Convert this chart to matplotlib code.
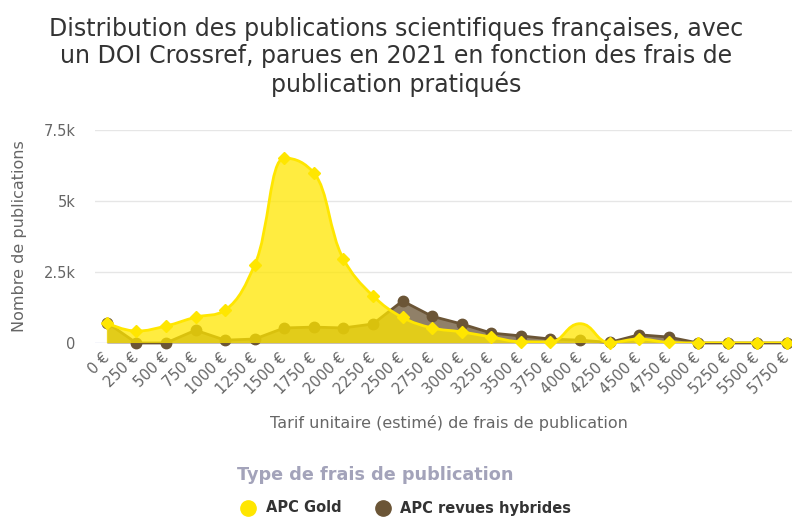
import numpy as np
import matplotlib.pyplot as plt
from matplotlib.path import Path
from matplotlib.patches import PathPatch
from matplotlib.lines import Line2D

# data
categories = ["0 €", "250 €", "500 €", "750 €", "1000 €", "1250 €", "1500 €", "1750 €",
              "2000 €", "2250 €", "2500 €", "2750 €", "3000 €", "3250 €", "3500 €", "3750 €",
              "4000 €", "4250 €", "4500 €", "4750 €", "5000 €", "5250 €", "5500 €", "5750 €"]
gold = [700, 420, 600, 910, 1160, 2750, 6510, 5990, 2960, 1660, 900, 530,
        390, 210, 45, 40, 680, 15, 140, 20, 5, 5, 5, 5]
hybrid = [720, 0, 0, 450, 100, 140, 530, 560, 530, 670, 1480, 940,
          670, 350, 250, 140, 100, 20, 290, 210, 0, 0, 0, 0]
y_ticks = [0, 2500, 5000, 7500]
y_ticklabels = ["0", "2.5k", "5k", "7.5k"]

GOLD = "#FFE600"
BROWN = "#6B5536"
GREY = "#666666"


def hc_spline(px, py, smoothing=1.5, max_arm=0.5):
    """Highcharts-like spline, computed in pixel space, arms kept inside each step."""
    n = len(px)
    denom = smoothing + 1
    step = px[1] - px[0]
    left = [(px[i], py[i]) for i in range(n)]
    right = [(px[i], py[i]) for i in range(n)]
    for i in range(1, n - 1):
        x, y = px[i], py[i]
        lx, ly = px[i - 1], py[i - 1]
        nx, ny = px[i + 1], py[i + 1]
        lcx, lcy = (smoothing * x + lx) / denom, (smoothing * y + ly) / denom
        rcx, rcy = (smoothing * x + nx) / denom, (smoothing * y + ny) / denom
        dl = np.hypot(lcx - x, lcy - y)
        dr = np.hypot(rcx - x, rcy - y)
        la = np.arctan2(lcy - y, lcx - x)
        ra = np.arctan2(rcy - y, rcx - x)
        ja = np.pi / 2 + (la + ra) / 2
        if abs(la - ja) > np.pi / 2:
            ja -= np.pi
        lcx, lcy = x + np.cos(ja) * dl, y + np.sin(ja) * dl
        rcx, rcy = x + np.cos(np.pi + ja) * dr, y + np.sin(np.pi + ja) * dr
        # no false extremes
        if rcy > y and rcy > ny:
            rcy = max(y, ny); lcy = 2 * y - rcy
        elif rcy < y and rcy < ny:
            rcy = min(y, ny); lcy = 2 * y - rcy
        if lcy > ly and lcy > y:
            lcy = max(ly, y); rcy = 2 * y - lcy
        elif lcy < ly and lcy < y:
            lcy = min(ly, y); rcy = 2 * y - lcy
        # shorten arms that would reach past half a step
        for cx, cy, side in [(lcx, lcy, "l"), (rcx, rcy, "r")]:
            ax_ = abs(cx - x)
            k = min(1.0, max_arm * step / ax_) if ax_ > 0 else 1.0
            pt = (x + (cx - x) * k, y + (cy - y) * k)
            if side == "l":
                left[i] = pt
            else:
                right[i] = pt
    verts = [(px[0], py[0])]
    codes = [Path.MOVETO]
    for i in range(1, n):
        verts += [right[i - 1], left[i], (px[i], py[i])]
        codes += [Path.CURVE4] * 3
    return verts, codes


fig = plt.figure(figsize=(7.92, 5.2), dpi=100)
ax = fig.add_axes([95 / 792, 1 - 343 / 520, 697 / 792, 213 / 520])
x = np.arange(len(categories))
ax.set_xlim(-0.4, len(categories) - 0.83)
ax.set_ylim(0, 7500)

# hybrid: straight area
ax.fill_between(x, hybrid, 0, color=BROWN, alpha=0.75, lw=0, zorder=2)
ax.plot(x, hybrid, color=BROWN, lw=2, marker="o", ms=7.5, zorder=3, clip_on=False)

# gold: spline area, built in display space then mapped back to data
pts = ax.transData.transform(np.column_stack([x, gold]))
verts, codes = hc_spline(pts[:, 0], pts[:, 1])
verts = ax.transData.inverted().transform(np.array(verts))
curve = Path(verts, codes)
area = Path(np.vstack([verts, [[x[-1], 0], [x[0], 0], verts[0]]]),
            codes + [Path.LINETO, Path.LINETO, Path.CLOSEPOLY])
ax.add_patch(PathPatch(area, facecolor=GOLD, alpha=0.75, lw=0, zorder=4))
ax.add_patch(PathPatch(curve, facecolor="none", edgecolor=GOLD, lw=2, zorder=5))
shown = [i for i in range(len(gold)) if categories[i] != "4000 €"]  # no marker at the 4000 € peak
ax.plot(x, gold, ls="none", marker="D", ms=6.5, color=GOLD, markevery=shown,
        zorder=6, clip_on=False)

# axes styling
for s in ax.spines.values():
    s.set_visible(False)
ax.axhline(0, color="#ccd6eb", lw=1, zorder=1)
for t in y_ticks[1:]:
    ax.axhline(t, color="#e6e6e6", lw=1, zorder=0)
ax.set_yticks(y_ticks)
ax.set_yticklabels(y_ticklabels, fontsize=10.5, color=GREY)
ax.set_xticks(x)
ax.set_xticklabels(categories, rotation=45, ha="right", va="center",
                   rotation_mode="anchor", fontsize=10.5, color=GREY)
ax.tick_params(axis="both", length=0)
ax.tick_params(axis="y", pad=14)
ax.tick_params(axis="x", pad=9)
ax.set_ylabel("Nombre de publications", fontsize=11.5, color=GREY, labelpad=12)

fig.text(449 / 792, 1 - 423 / 520, "Tarif unitaire (estimé) de frais de publication",
         ha="center", va="center", fontsize=11.5, color=GREY)

fig.text(0.5, 1 - 57 / 520,
         "Distribution des publications scientifiques françaises, avec\n"
         "un DOI Crossref, parues en 2021 en fonction des frais de\n"
         "publication pratiqués",
         ha="center", va="center", fontsize=17, color="#333333", linespacing=1.17)

# legend
fig.text(375 / 792, 1 - 475 / 520, "Type de frais de publication", ha="center", va="center",
         fontsize=12.7, fontweight="bold", color="#a3a3ba")
for cx, tx, label, col in [(248, 266, "APC Gold", GOLD), (383, 400, "APC revues hybrides", BROWN)]:
    fig.add_artist(Line2D([cx / 792], [1 - 508 / 520], marker="o", ms=11, color=col,
                          transform=fig.transFigure))
    fig.text(tx / 792, 1 - 508 / 520, label, ha="left", va="center",
             fontsize=10.5, fontweight="bold", color="#333333")

fig.savefig("out.png", dpi=100)
